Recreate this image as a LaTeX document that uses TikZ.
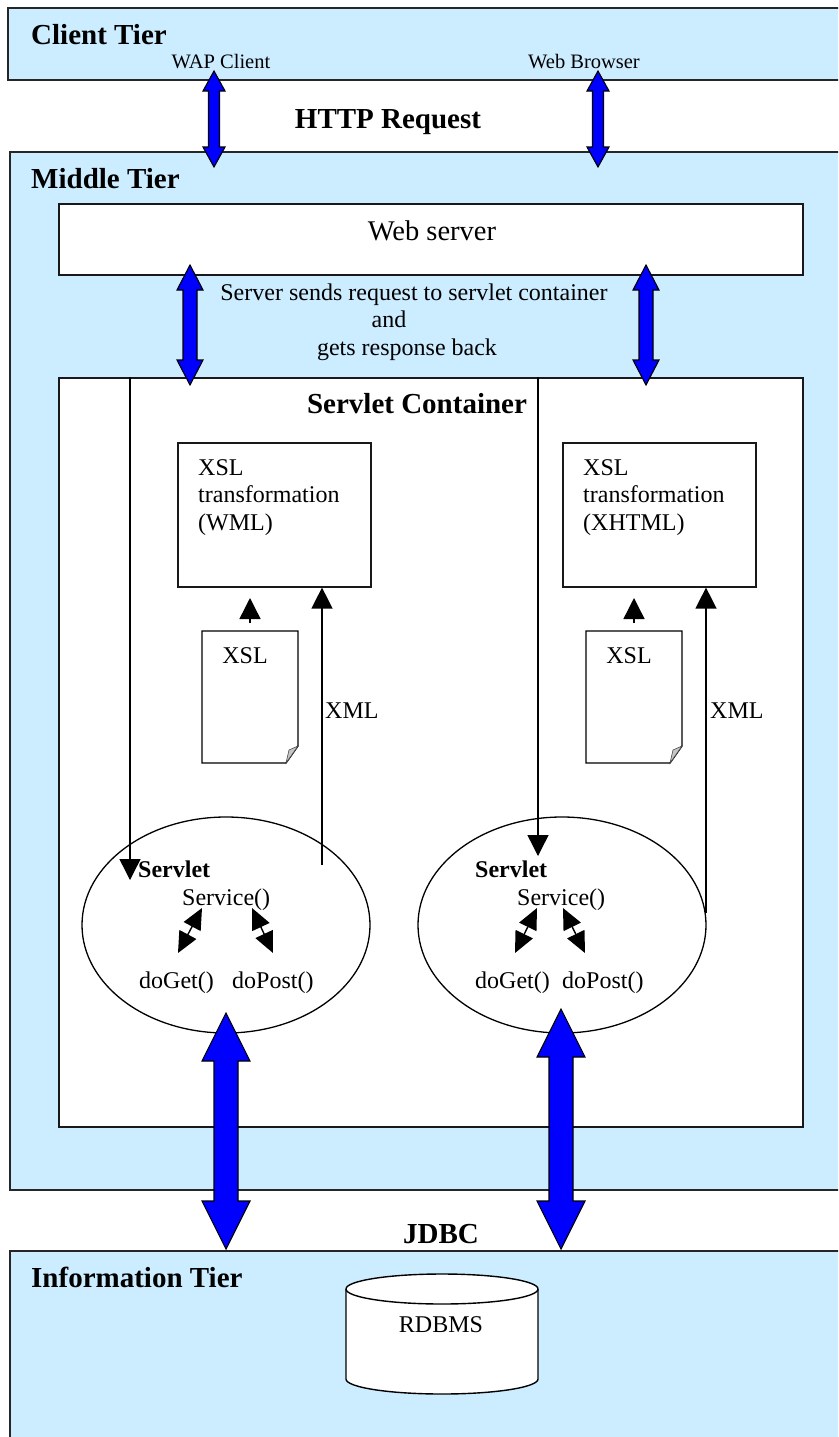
\documentclass[tikz,border=0pt]{standalone}
\usepackage{fontspec}
\setmainfont{Liberation Serif}
\usetikzlibrary{arrows.meta,calc,shapes.geometric}
\definecolor{tierblue}{RGB}{204,236,255}
\definecolor{pipeblue}{RGB}{0,0,255}

% two-headed block arrow between two points on a vertical line
% #1 upper tip, #2 lower tip, #3 half shaft width, #4 half head width, #5 head length
\newcommand{\twowayarrow}[5]{%
  \draw[blockarrow] (#1) -- ++(#4,#5) -- ++({#3-#4},0) -- ($(#2)+(#3,{-#5})$)
    -- ++({#4-#3},0) -- (#2) -- ++({-#4},{-#5}) -- ++({#4-#3},0)
    -- ($(#1)+({-#3},#5)$) -- ++({#3-#4},0) -- cycle;}

\tikzset{
  tier/.style={draw=black!85, line width=1.8pt, fill=tierblue, inner sep=0pt, anchor=north west},
  whitebox/.style={draw=black!90, line width=1.6pt, fill=white, inner sep=0pt, anchor=north west},
  blockarrow/.style={draw=black, line width=1.1pt, fill=pipeblue, line join=miter},
  flow/.style={draw=black, line width=1.4pt, -{Triangle[width=21pt,length=21pt]}},
  call/.style={draw=black, line width=1.4pt, {Triangle[width=19pt,length=21pt]}-{Triangle[width=19pt,length=21pt]}},
  heading/.style={font=\fontsize{29}{34}\selectfont\bfseries, inner sep=0pt},
  label/.style={font=\fontsize{24}{28}\selectfont, inner sep=0pt},
  small/.style={font=\fontsize{20.5}{24}\selectfont, inner sep=0pt},
  boldlabel/.style={font=\fontsize{24}{28}\selectfont\bfseries, inner sep=0pt},
}

\begin{document}
\begin{tikzpicture}[x=1pt,y=-1pt]
\useasboundingbox (0,0) rectangle (838,1437);
\clip (0,0) rectangle (838,1437);

% ---------- tiers ----------
\node[tier, minimum width=850pt, minimum height=72pt] (client) at (7,7) {};
\node[tier, minimum width=850pt, minimum height=1038pt] (middle) at (9,151) {};
\node[tier, minimum width=850pt, minimum height=260pt] (info) at (9,1250) {};

\node[heading, anchor=base west] (clientlbl) at (31,45) {Client Tier};
\node[small, anchor=base] (wap) at (221,69) {WAP Client};
\node[small, anchor=base] (browser) at (584,69) {Web Browser};
\node[heading, anchor=base] (http) at (388,128) {HTTP Request};
\node[heading, anchor=base west] (middlelbl) at (31,188) {Middle Tier};
\node[heading, anchor=base] (jdbc) at (441,1243) {JDBC};
\node[heading, anchor=base west] (infolbl) at (31,1287) {Information Tier};

% ---------- web server and servlet container ----------
\node[whitebox, minimum width=744pt, minimum height=71pt] (web) at (58,203) {};
\node[label, font=\fontsize{28.5}{33}\selectfont, anchor=base] (weblbl) at (432,240) {Web server};

\node[label, anchor=base] (msg1) at (414,300) {Server sends request to servlet container};
\node[label, anchor=base] (msg2) at (389,327) {and};
\node[label, anchor=base] (msg3) at (407,355) {gets response back};

\node[whitebox, minimum width=744pt, minimum height=749pt] (container) at (58,377) {};
\node[heading, anchor=base] (containerlbl) at (417,413) {Servlet Container};

% ---------- XSL transformation boxes ----------
\node[whitebox, minimum width=193pt, minimum height=144pt] (xslt1) at (177,442) {};
\node[whitebox, minimum width=193pt, minimum height=144pt] (xslt2) at (562,442) {};
\node[label, anchor=base west] (xslt1a) at (198,475) {XSL};
\node[label, anchor=base west] (xslt1b) at (198,502) {transformation};
\node[label, anchor=base west] (xslt1c) at (198,530) {(WML)};
\node[label, anchor=base west] (xslt2a) at (583,475) {XSL};
\node[label, anchor=base west] (xslt2b) at (583,502) {transformation};
\node[label, anchor=base west] (xslt2c) at (583,530) {(XHTML)};

% ---------- XSL stylesheets (folded-corner pages) ----------
\foreach \px/\nm in {202/doc1, 586/doc2}{
  \draw[line width=1.4pt, fill=white] (\px,631) -- ++(96,0) -- ++(0,115) -- ++(-12,17) -- ++(-84,0) -- cycle;
  \fill[gray!45, draw=black!70, line width=0.6pt] (\px+96,746) -- (\px+84,763) -- (\px+87,750) -- cycle;
  \coordinate (\nm) at (\px+48,631);
}
\node[label, anchor=base] (xsl1) at (245,663) {XSL};
\node[label, anchor=base] (xsl2) at (629,663) {XSL};

% ---------- servlets ----------
\node[ellipse, draw, line width=1.3pt, fill=white, minimum width=288pt, minimum height=216pt, inner sep=0pt] (servlet1) at (226,925) {};
\node[ellipse, draw, line width=1.3pt, fill=white, minimum width=288pt, minimum height=216pt, inner sep=0pt] (servlet2) at (562,925) {};

\node[boldlabel, anchor=base west] (s1name) at (138,877) {Servlet};
\node[label, anchor=base west] (s1svc) at (182,905) {Service()};
\node[label, anchor=base west] (s1get) at (139,988) {doGet()};
\node[label, anchor=base west] (s1post) at (232,988) {doPost()};
\node[boldlabel, anchor=base west] (s2name) at (475,877) {Servlet};
\node[label, anchor=base west] (s2svc) at (517,905) {Service()};
\node[label, anchor=base west] (s2get) at (475,988) {doGet()};
\node[label, anchor=base west] (s2post) at (562,988) {doPost()};

% dispatch from service() to doGet()/doPost()
\coordinate (s1a) at (202,908); \coordinate (s1b) at (178,953);
\coordinate (s1c) at (252,908); \coordinate (s1d) at (273,953);
\coordinate (s2a) at (537,908); \coordinate (s2b) at (515,953);
\coordinate (s2c) at (563,908); \coordinate (s2d) at (585,953);
\draw[call] (s1a) -- (s1b);
\draw[call] (s1c) -- (s1d);
\draw[call] (s2a) -- (s2b);
\draw[call] (s2c) -- (s2d);

% ---------- request / response flow inside the container ----------
\coordinate (req1) at (130,377);  \coordinate (req1end) at (130,880);
\coordinate (req2) at (538,377);  \coordinate (req2end) at (538,856);
\draw[flow] (req1) -- (req1end);
\draw[flow] (req2) -- (req2end);

\coordinate (xml1) at (322,865);
\coordinate (xml2) at (706,913);
\draw[flow] (xml1) -- (xml1 |- xslt1.south);
\draw[flow] (xml2) -- (xml2 |- xslt2.south);
\node[label, anchor=base west] (xml1lbl) at (325,718) {XML};
\node[label, anchor=base west] (xml2lbl) at (710,718) {XML};

\coordinate (doc1up) at (250,623); \coordinate (doc1tip) at (250,598);
\coordinate (doc2up) at (634,623); \coordinate (doc2tip) at (634,598);
\draw[flow] (doc1up) -- (doc1tip);
\draw[flow] (doc2up) -- (doc2tip);

% ---------- database ----------
\draw[line width=1.4pt, fill=white] (346,1289) -- (346,1379) arc (180:0:96 and 15) -- (538,1289) arc (0:-180:96 and 15) -- cycle;
\draw[line width=1.4pt] (346,1289) arc (180:0:96 and 15);
\node[label, anchor=base] (rdbms) at (441,1332) {RDBMS};

% ---------- block arrows between tiers ----------
\coordinate (httpLt) at (214,71);  \coordinate (httpLb) at (214,167);
\coordinate (httpRt) at (598,71);  \coordinate (httpRb) at (598,167);
\twowayarrow{httpLt}{httpLb}{5.5}{11}{20}
\twowayarrow{httpRt}{httpRb}{5.5}{11}{20}

\coordinate (srvLt) at (190,265);  \coordinate (srvLb) at (190,385);
\coordinate (srvRt) at (646,265);  \coordinate (srvRb) at (646,385);
\twowayarrow{srvLt}{srvLb}{7}{13}{25}
\twowayarrow{srvRt}{srvRb}{7}{13}{25}

\coordinate (dbLt) at (226,1013);  \coordinate (dbLb) at (226,1249);
\coordinate (dbRt) at (561,1009);  \coordinate (dbRb) at (561,1249);
\twowayarrow{dbLt}{dbLb}{12}{24}{48}
\twowayarrow{dbRt}{dbRb}{12}{24}{48}
\end{tikzpicture}
\end{document}
